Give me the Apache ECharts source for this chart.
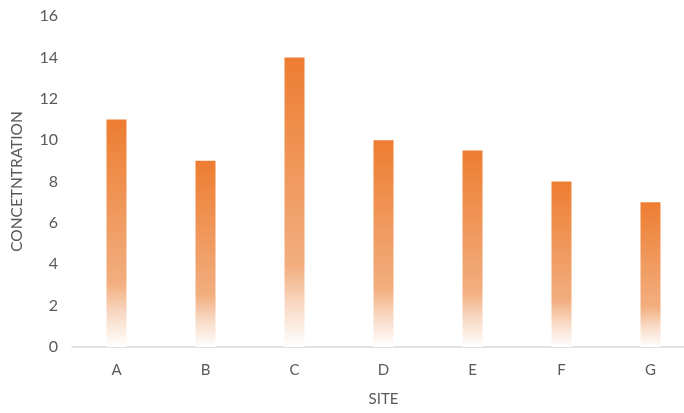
<!DOCTYPE html>
<html>
<head>
<meta charset="utf-8">
<script src="https://cdn.jsdelivr.net/npm/echarts@6/dist/echarts.min.js"></script>
<style>
  html, body { margin: 0; padding: 0; background: #fff; }
  #chart { width: 684px; height: 413px; }
</style>
</head>
<body>
<div id="chart"></div>
<script>
var sites = ['A', 'B', 'C', 'D', 'E', 'F', 'G'];
var concentration = [11, 9, 14, 10, 9.5, 8, 7];

var chart = echarts.init(document.getElementById('chart'));

var font = 'Lato, "Open Sans", sans-serif';

option = {
  animation: false,
  grid: {
    left: 72,
    top: 16,
    width: 623,
    bottom: 66,
    outerBoundsMode: 'none',
    containLabel: false
  },
  xAxis: {
    type: 'category',
    data: sites,
    name: 'SITE',
    nameLocation: 'middle',
    nameGap: 45,
    nameTextStyle: { color: '#595959', fontSize: 15, fontFamily: font },
    axisLine: { lineStyle: { color: '#d9d9d9', width: 1.5 } },
    axisTick: { show: false },
    axisLabel: { color: '#595959', fontSize: 15, fontFamily: font, margin: 16 }
  },
  yAxis: {
    type: 'value',
    min: 0,
    max: 16,
    interval: 2,
    name: 'CONCETNTRATION',
    nameLocation: 'middle',
    nameGap: 47,
    nameTextStyle: { color: '#595959', fontSize: 15.5, fontFamily: font },
    splitLine: { show: false },
    axisLine: { show: false },
    axisTick: { show: false },
    axisLabel: { color: '#595959', fontSize: 16, fontFamily: font, margin: 14 }
  },
  series: [
    {
      type: 'bar',
      data: concentration,
      barWidth: 20,
      itemStyle: {
        color: new echarts.graphic.LinearGradient(0, 0, 0, 1, [
          { offset: 0, color: '#ED7D31' },
          { offset: 0.72, color: '#F2AE7F' },
          { offset: 0.85, color: '#F8D8C2' },
          { offset: 1, color: '#FFFFFF' }
        ])
      }
    }
  ]
};

chart.setOption(option);
</script>
</body>
</html>
